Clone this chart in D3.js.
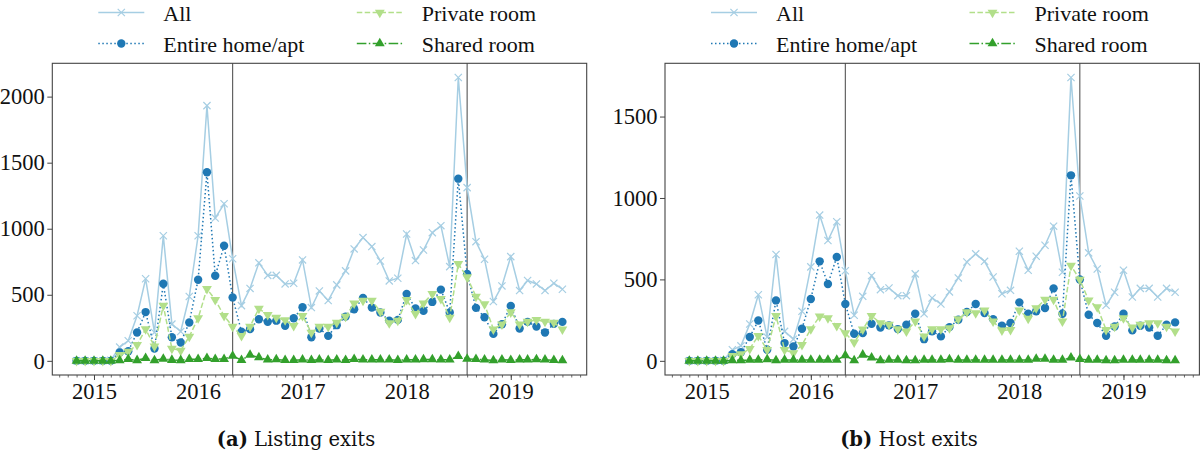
<!DOCTYPE html>
<html>
<head>
<meta charset="utf-8">
<script src="https://cdn.jsdelivr.net/npm/d3@7"></script>
<style>
  body { margin: 0; background: #fff; }
  svg text { font-family: "Liberation Serif", "Times New Roman", serif; fill: #111; }
</style>
</head>
<body>
<div id="chart"></div>
<script>
// monthly observations, Nov 2014 .. Jul 2019
var months = d3.timeMonths(new Date(2014, 10, 1), new Date(2019, 7, 1));
var yearTicks = [2015, 2016, 2017, 2018, 2019];
var breakMonths = ["2016-05", "2018-08"];

var seriesNames = ["All", "Entire home/apt", "Private room", "Shared room"];

// (a) listing exits
var listingAll = [0,0,0,0,5,104,152,341,621,215,947,278,222,487,947,1932,1081,1189,773,418,
  548,742,647,647,582,587,764,403,529,456,575,681,847,933,865,756,605,625,960,759,
  839,970,1023,713,2145,1311,902,769,449,567,789,532,608,582,532,587,542];
var listingEntire = [0,0,0,0,0,63,73,215,369,93,583,179,139,290,614,1427,644,871,480,220,
  240,315,296,304,265,322,406,179,245,189,270,335,391,476,403,366,303,310,507,396,
  378,446,539,366,1379,658,401,330,204,277,416,245,295,260,214,280,295];
var listingPrivate = [0,0,0,0,0,45,70,121,240,109,419,93,78,184,323,545,462,340,260,189,
  260,396,348,328,308,265,340,214,260,260,290,335,436,456,456,373,285,305,461,355,
  436,507,469,328,734,633,487,429,239,277,368,277,297,310,297,290,239];
var listingShared = [0,0,0,0,0,3,12,4,20,3,15,6,4,12,13,20,13,13,38,5,
  45,25,8,10,5,5,8,5,8,5,8,5,12,8,8,8,8,5,8,8,
  10,10,8,8,35,15,12,8,3,8,5,8,8,10,8,5,3];

// (b) host exits
var hostAll = [0,0,0,0,3,68,92,226,406,146,653,181,133,304,577,895,739,854,553,280,
  396,523,437,447,400,400,534,289,386,349,423,509,607,657,611,515,412,433,673,556,
  642,710,827,544,1740,1012,663,564,341,421,556,392,445,445,392,445,421];
var hostEntire = [0,0,0,0,0,41,53,146,248,68,371,109,88,197,380,611,472,638,349,166,
  170,228,205,218,195,222,289,133,181,150,207,252,300,349,293,256,215,232,359,289,
  304,324,445,289,1139,499,283,232,154,211,289,187,215,205,154,222,236];
var hostPrivate = [0,0,0,0,0,31,41,74,154,68,277,68,47,98,195,273,263,215,170,113,
  193,277,232,222,195,181,242,150,195,195,201,256,300,293,310,242,187,191,310,259,
  324,376,376,242,585,499,371,330,191,211,263,205,222,232,232,211,181];
var hostShared = [0,0,0,0,0,3,3,5,5,8,3,5,5,5,5,5,5,5,33,3,
  37,20,3,5,5,3,3,5,5,5,8,5,5,5,5,5,5,5,5,5,
  12,12,5,5,20,10,5,5,3,3,5,5,5,5,5,3,3];

var listingTicks = [0, 500, 1000, 1500, 2000];
var hostTicks = [0, 500, 1000, 1500];

var styles = [
  {color: "#a6cee3", dash: null,            marker: "x"},
  {color: "#1f78b4", dash: "1.5,2.5",       marker: "circle"},
  {color: "#b2df8a", dash: "5.5,2.4",       marker: "down"},
  {color: "#33a02c", dash: "9.6,2.4,1.5,2.4", marker: "up"}
];

var serif = "'Liberation Serif', 'Times New Roman', serif";

var W = 1200, H = 452;
var svg = d3.select("#chart").append("svg")
  .attr("width", W).attr("height", H);

function drawMarker(sel, kind, color) {
  if (kind == "x") {
    sel.append("path")
      .attr("d", "M-3.6,-3.6L3.6,3.6M-3.6,3.6L3.6,-3.6")
      .attr("stroke", color).attr("stroke-width", 1.2).attr("fill", "none");
  } else if (kind == "circle") {
    sel.append("circle").attr("r", 4.2).attr("fill", color);
  } else {
    sel.append("path")
      .attr("d", d3.symbol(d3.symbolTriangle, 42)())
      .attr("transform", kind == "down" ? "rotate(180)" : null)
      .attr("fill", color);
  }
}

function drawPanel(opt) {
  var g = svg.append("g");
  var left = opt.left, right = opt.left + 534.4, top = 63.3, bottom = 375;

  var t0 = months[0], t1 = months[months.length - 1];
  var span = t1 - t0;
  var x = d3.scaleTime()
    .domain([new Date(+t0 - 0.05 * span), new Date(+t1 + 0.05 * span)])
    .range([left, right]);

  var ymax = d3.max(opt.series, function(s) { return d3.max(s); });
  var y = d3.scaleLinear()
    .domain([-0.05 * ymax, 1.05 * ymax])
    .range([bottom, top]);

  // y axis
  var ya = g.append("g")
    .attr("transform", "translate(" + left + ",0)")
    .call(d3.axisLeft(y).tickValues(opt.ticks).tickFormat(d3.format("d"))
      .tickSize(5).tickPadding(2.5));
  ya.select(".domain").remove();
  ya.selectAll("line").attr("stroke", "#444");
  ya.selectAll("text").attr("font-size", 22.5).style("font-family", serif);

  // x axis, minor monthly ticks and major year ticks
  var xm = g.append("g")
    .attr("transform", "translate(0," + bottom + ")")
    .call(d3.axisBottom(x).tickValues(d3.timeMonths(x.domain()[0], x.domain()[1]))
      .tickSize(2.5).tickFormat(""));
  xm.select(".domain").remove();
  xm.selectAll("line").attr("stroke", "#444").attr("stroke-width", 0.8);

  var xa = g.append("g")
    .attr("transform", "translate(0," + bottom + ")")
    .call(d3.axisBottom(x)
      .tickValues(yearTicks.map(function(yr) { return new Date(yr, 0, 1); }))
      .tickFormat(d3.timeFormat("%Y")).tickSize(5).tickPadding(3));
  xa.select(".domain").remove();
  xa.selectAll("line").attr("stroke", "#444");
  xa.selectAll("text").attr("font-size", 22.5).style("font-family", serif);

  // break lines
  var parse = d3.timeParse("%Y-%m");
  g.selectAll("line.brk")
    .data(breakMonths)
    .enter()
    .append("line")
      .attr("class", "brk")
      .attr("x1", function(d) { return x(parse(d)); })
      .attr("x2", function(d) { return x(parse(d)); })
      .attr("y1", top).attr("y2", bottom)
      .attr("stroke", "#555").attr("stroke-width", 1.1);

  // series
  opt.series.forEach(function(vals, k) {
    var st = styles[k];
    var line = d3.line()
      .x(function(d, i) { return x(months[i]); })
      .y(function(d) { return y(d); });
    g.append("path")
      .datum(vals)
      .attr("d", line)
      .attr("fill", "none")
      .attr("stroke", st.color)
      .attr("stroke-width", 1.5)
      .attr("stroke-dasharray", st.dash);
    g.selectAll("g.m" + k)
      .data(vals)
      .enter()
      .append("g")
        .attr("class", "m" + k)
        .attr("transform", function(d, i) { return "translate(" + x(months[i]) + "," + y(d) + ")"; })
        .each(function() { drawMarker(d3.select(this), st.marker, st.color); });
  });

  // frame
  g.append("rect")
    .attr("x", left).attr("y", top)
    .attr("width", right - left).attr("height", bottom - top)
    .attr("fill", "none").attr("stroke", "#444").attr("stroke-width", 1.1);

  // legend (two columns, filled column-wise)
  var lx = [opt.left + 46, opt.left + 304.5];
  var ly = [12.5, 43.5];
  seriesNames.forEach(function(name, k) {
    var st = styles[k];
    var cx = lx[Math.floor(k / 2)], cy = ly[k % 2];
    var lg = g.append("g");
    lg.append("line")
      .attr("x1", cx).attr("x2", cx + 46)
      .attr("y1", cy).attr("y2", cy)
      .attr("stroke", st.color).attr("stroke-width", 1.5)
      .attr("stroke-dasharray", st.dash);
    var mk = lg.append("g").attr("transform", "translate(" + (cx + 23) + "," + cy + ")");
    drawMarker(mk, st.marker, st.color);
    lg.append("text")
      .attr("x", cx + 65).attr("y", cy + 8.3)
      .attr("font-size", 22)
      .style("font-family", serif)
      .text(name);
  });

  // caption
  var cap = g.append("text")
    .attr("x", opt.capX).attr("y", 446)
    .attr("text-anchor", "middle")
    .attr("font-size", 19.5)
    .style("font-family", "'DejaVu Serif', serif");
  cap.append("tspan").attr("font-weight", "bold").text(opt.label);
  cap.append("tspan").text(" " + opt.caption);
}

drawPanel({left: 52.3, ticks: listingTicks, capX: 296, label: "(a)", caption: "Listing exits",
  series: [listingAll, listingEntire, listingPrivate, listingShared]});
drawPanel({left: 665, ticks: hostTicks, capX: 909, label: "(b)", caption: "Host exits",
  series: [hostAll, hostEntire, hostPrivate, hostShared]});
</script>
</body>
</html>
